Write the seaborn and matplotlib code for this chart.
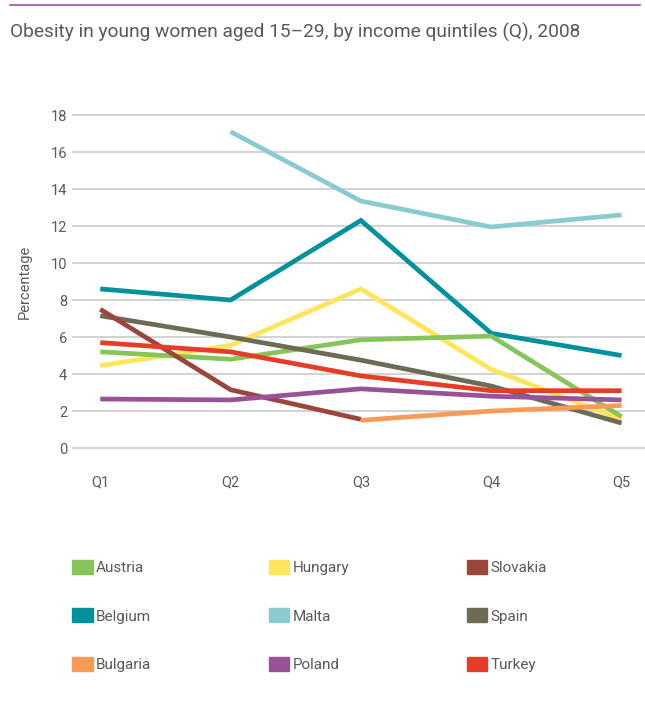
import numpy as np
import pandas as pd
import matplotlib.pyplot as plt
import seaborn as sns
from matplotlib.patches import Patch
from matplotlib.lines import Line2D

# ── Data ──────────
quintiles = ["Q1", "Q2", "Q3", "Q4", "Q5"]
countries = ["Austria", "Belgium", "Bulgaria", "Hungary", "Malta",
             "Poland", "Slovakia", "Spain", "Turkey"]
austria = [5.2, 4.8, 5.85, 6.05, 1.7]
belgium = [8.6, 8.0, 12.3, 6.2, 5.0]
bulgaria = [np.nan, np.nan, 1.5, 2.0, 2.3]
hungary = [4.45, 5.55, 8.6, 4.25, 1.55]
malta = [np.nan, 17.1, 13.35, 11.95, 12.6]
poland = [2.65, 2.6, 3.2, 2.8, 2.6]
slovakia = [7.5, 3.15, 1.55, np.nan, np.nan]
spain = [7.15, 6.0, 4.75, 3.35, 1.35]
turkey = [5.7, 5.2, 3.9, 3.1, 3.1]
colors = ["#86C55A", "#00929C", "#F99B55", "#FFE55A", "#88CCCF",
          "#9A5297", "#9B453D", "#6D6A55", "#E63E26"]

series = [austria, belgium, bulgaria, hungary, malta, poland, slovakia, spain, turkey]
df = pd.DataFrame({
    "quintile": quintiles * len(countries),
    "country": np.repeat(countries, len(quintiles)),
    "value": np.concatenate(series),
}).dropna()

grey = "#595959"
plt.rcParams["font.family"] = ["Roboto", "DejaVu Sans"]

fig = plt.figure(figsize=(6.45, 7.07), dpi=100)
ax = fig.add_axes([0.113, 0.3663, 0.887, 0.471])

# fixed drawing order so overlaps look right
draw_order = ["Malta", "Belgium", "Hungary", "Austria", "Spain", "Slovakia",
              "Bulgaria", "Poland", "Turkey"]
pal = dict(zip(countries, colors))
sns.lineplot(data=df, x="quintile", y="value", hue="country",
             hue_order=draw_order, palette=pal, sort=False,
             linewidth=3.4, legend=False, ax=ax, zorder=3)
for ln in ax.lines:
    ln.set_solid_capstyle("butt")
    ln.set_solid_joinstyle("miter")

ax.set_ylim(0, 18)
ax.set_xlim(-0.21, 4.18)
ax.set_yticks(range(0, 19, 2))
for y in range(0, 19, 2):
    ax.axhline(y, color="#CFCFCF", lw=1.3, zorder=1, clip_on=False)
for s in ax.spines.values():
    s.set_visible(False)
ax.tick_params(axis="both", length=0, colors=grey, labelsize=10.5)
ax.tick_params(axis="x", pad=20)
ax.tick_params(axis="y", pad=4)
ax.set_xlabel("")
ax.set_ylabel("Percentage", color=grey, fontsize=10.5, labelpad=14)
ax.grid(False)

# top rule and title
fig.add_artist(Line2D([10 / 645, 640 / 645], [1 - 5 / 707, 1 - 5 / 707],
                      color="#A9519E", lw=1.2))
fig.text(10 / 645, 1 - 32 / 707, "Obesity in young women aged 15\u201329, by income quintiles (Q), 2008",
         color=grey, fontsize=13.8, va="center", ha="left")

handles = [Patch(facecolor=pal[c], edgecolor=pal[c]) for c in countries]
fig.legend(handles, countries, loc="upper left", ncol=3,
           bbox_to_anchor=(66 / 645, 1 - 554 / 707), frameon=False,
           fontsize=11, labelcolor=grey, handlelength=1.35, handleheight=1.0,
           handletextpad=0.2, labelspacing=2.18, columnspacing=7.7,
           borderaxespad=0)

fig.savefig("out.png", dpi=100)
